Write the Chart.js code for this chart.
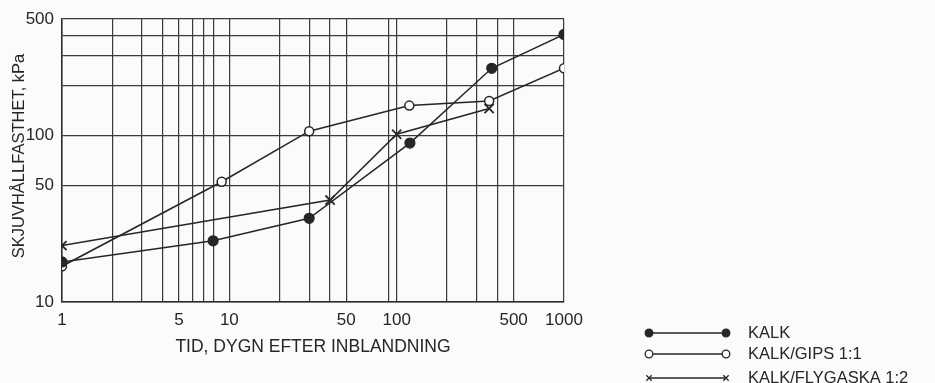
<!DOCTYPE html>
<html>
<head>
<meta charset="utf-8">
<script src="https://cdn.jsdelivr.net/npm/chart.js@4.4.1/dist/chart.umd.min.js"></script>
<style>
    html, body { margin: 0; padding: 0; background: #fbfbfa; }
    #wrap { width: 935px; height: 383px; }
</style>
</head>
<body>
<div id="wrap"><canvas id="chart" width="935" height="383"></canvas></div>
<script>
// Series (days after mixing, shear strength in kPa)
const kalkDays = [1, 8, 30, 120, 370, 1000];
const kalkValues = [17.4, 23.3, 31.8, 90, 253, 404];
const gipsDays = [1, 9, 30, 119, 357, 1000];
const gipsValues = [16.4, 52.7, 106, 151, 161, 253];
const flygDays = [1, 40, 100, 357];
const flygValues = [21.8, 40.9, 101.6, 145];

const seriesLabels = ['KALK', 'KALK/GIPS 1:1', 'KALK/FLYGASKA 1:2'];
const yTitle = 'SKJUVHÅLLFASTHET, kPa';

// Grid lines as drawn on the original log paper
const xGrid = [1, 2, 3, 4, 5, 6, 7, 8, 10, 20, 30, 40, 50, 90, 100, 200, 300, 400, 500, 1000];
const xTickLabels = [1, 5, 10, 50, 100, 500, 1000];
const yGrid = [10, 50, 100, 200, 300, 400, 500];
const yTickLabels = [10, 50, 100, 500];

const INK = '#262626';
const FONT = '"Liberation Sans", Arial, sans-serif';

function toPoints(xs, ys) {
    return xs.map((x, i) => ({ x: x, y: ys[i] }));
}

// Lettering in the original is a narrow stencil face, so squeeze the y title a bit
const condensedYTitle = {
    id: 'condensedYTitle',
    afterDraw(chart) {
        const ctx = chart.ctx;
        ctx.save();
        ctx.font = '16.5px ' + FONT;
        const w = ctx.measureText(yTitle).width;
        const squeeze = Math.min(1, 215 / w);
        ctx.translate(19, 156);
        ctx.rotate(-Math.PI / 2);
        ctx.scale(squeeze, 1);
        ctx.fillStyle = INK;
        ctx.textAlign = 'center';
        ctx.textBaseline = 'middle';
        ctx.fillText(yTitle, 0, 0);
        ctx.restore();
    }
};

// Legend drawn in the lower right, outside the plot
const paperLegend = {
    id: 'paperLegend',
    afterDraw(chart) {
        const ctx = chart.ctx;
        const rows = [333, 354, 378];
        ctx.save();
        chart.data.datasets.forEach((ds, i) => {
            const y = rows[i];
            ctx.strokeStyle = INK;
            ctx.lineWidth = 1.4;
            ctx.beginPath();
            ctx.moveTo(649, y);
            ctx.lineTo(726, y);
            ctx.stroke();
            [649, 726].forEach(x => {
                ctx.fillStyle = ds.pointBackgroundColor;
                ctx.strokeStyle = INK;
                ctx.lineWidth = 1.3;
                Chart.helpers.drawPoint(ctx, {
                    pointStyle: ds.pointStyle,
                    radius: 3.8,
                    rotation: 0,
                    borderWidth: 1.3
                }, x, y);
            });
            ctx.fillStyle = INK;
            ctx.font = '16.5px ' + FONT;
            ctx.textBaseline = 'middle';
            ctx.textAlign = 'left';
            ctx.fillText(ds.label, 748, y);
        });
        ctx.restore();
    }
};

const ctx = document.getElementById('chart').getContext('2d');
new Chart(ctx, {
    type: 'line',
    data: {
        datasets: [
            {
                label: seriesLabels[0],
                data: toPoints(kalkDays, kalkValues),
                borderColor: INK,
                borderWidth: 1.5,
                pointStyle: 'circle',
                pointRadius: 5,
                pointBackgroundColor: INK,
                pointBorderColor: INK,
                pointBorderWidth: 1.2
            },
            {
                label: seriesLabels[1],
                data: toPoints(gipsDays, gipsValues),
                borderColor: INK,
                borderWidth: 1.5,
                pointStyle: 'circle',
                pointRadius: 4.5,
                pointBackgroundColor: '#ffffff',
                pointBorderColor: INK,
                pointBorderWidth: 1.5
            },
            {
                label: seriesLabels[2],
                data: toPoints(flygDays, flygValues),
                borderColor: INK,
                borderWidth: 1.5,
                pointStyle: 'crossRot',
                pointRadius: 6.5,
                pointBackgroundColor: INK,
                pointBorderColor: INK,
                pointBorderWidth: 1.8
            }
        ]
    },
    options: {
        responsive: false,
        animation: false,
        layout: { padding: { top: 19, right: 371, left: 0, bottom: 0 } },
        plugins: {
            legend: { display: false },
            tooltip: { enabled: false }
        },
        scales: {
            x: {
                type: 'logarithmic',
                min: 1,
                max: 1000,
                afterBuildTicks: scale => { scale.ticks = xGrid.map(v => ({ value: v })); },
                afterFit: scale => { scale.height = 81; },
                grid: { color: '#3a3a3a', lineWidth: 1.2, drawTicks: false },
                border: { color: '#2a2a2a', width: 1.5 },
                ticks: {
                    autoSkip: false,
                    maxRotation: 0,
                    padding: 8,
                    color: INK,
                    font: { family: FONT, size: 17 },
                    callback: v => xTickLabels.includes(v) ? String(v) : ''
                },
                title: {
                    display: true,
                    text: 'TID, DYGN EFTER INBLANDNING',
                    color: INK,
                    font: { family: FONT, size: 17.5 },
                    padding: { top: 0, bottom: 25 }
                }
            },
            y: {
                type: 'logarithmic',
                min: 10,
                max: 500,
                afterBuildTicks: scale => { scale.ticks = yGrid.map(v => ({ value: v })); },
                afterFit: scale => { scale.width = 62; },
                grid: { color: '#3a3a3a', lineWidth: 1.2, drawTicks: false },
                border: { color: '#2a2a2a', width: 1.5 },
                ticks: {
                    autoSkip: false,
                    padding: 8,
                    color: INK,
                    font: { family: FONT, size: 17 },
                    callback: v => yTickLabels.includes(v) ? String(v) : ''
                },
                title: { display: false }
            }
        }
    },
    plugins: [paperLegend, condensedYTitle]
});
</script>
</body>
</html>
